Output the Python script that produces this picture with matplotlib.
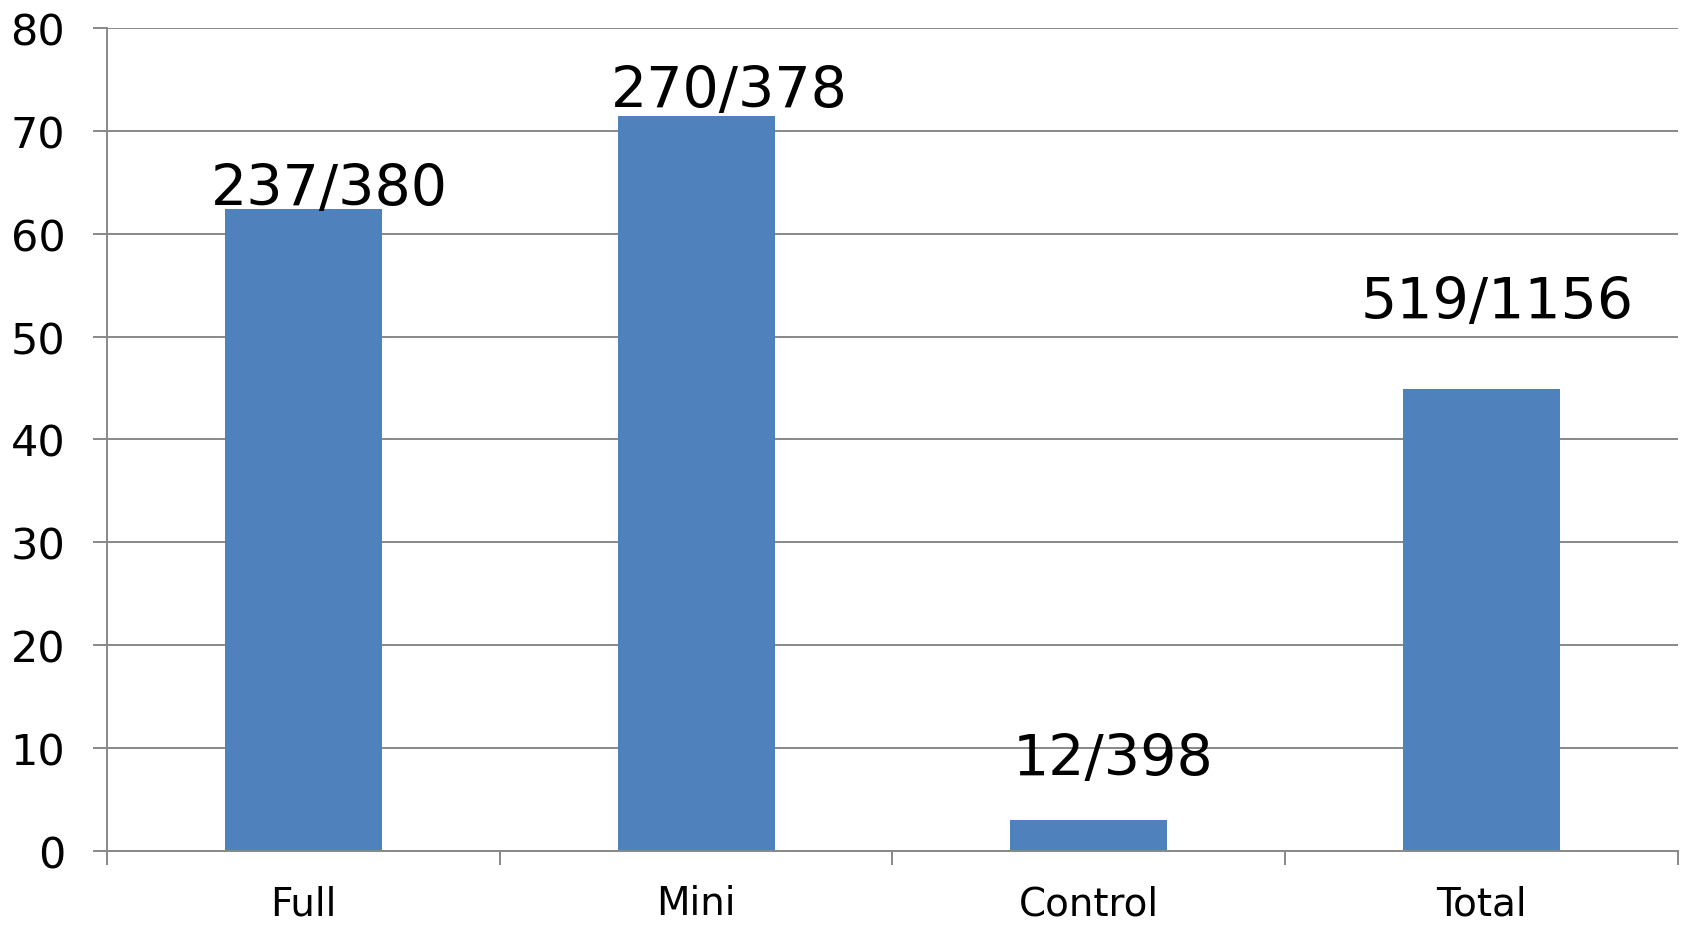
import matplotlib.pyplot as plt
import numpy as np

categories = ['Full', 'Mini', 'Control', 'Total']
percent = [62.4, 71.4, 3.0, 44.9]
labels = ['237/380', '270/378', '12/398', '519/1156']

# where the fraction labels sit (data units), they were placed by hand
label_dx = [0.066, 0.084, 0.061, 0.04]
label_y = [62.8, 72.3, 7.4, 51.8]

grey = '#888888'

fig = plt.figure(figsize=(16.84, 9.29), dpi=100)
ax = fig.add_axes([0.0635, 0.0829, 0.9329, 0.8859])

x = np.arange(len(categories))
ax.bar(x, percent, width=0.4, color='#4F81BD', zorder=2)

for i, txt in enumerate(labels):
    ax.text(x[i] + label_dx[i], label_y[i], txt, ha='center', va='baseline',
            fontsize=41, color='black', zorder=3)

ax.set_xlim(-0.5, 3.5)
ax.set_ylim(0, 80)
ax.set_yticks(range(0, 81, 10))
ax.yaxis.grid(True, color=grey, linewidth=1.4, zorder=1)
ax.set_axisbelow(True)

ax.set_xticks(x)
ax.set_xticklabels(categories, fontsize=28)
ax.set_xticks(np.arange(-0.5, 3.6, 1), minor=True)
ax.tick_params(axis='x', which='major', length=0, pad=24)
ax.tick_params(axis='x', which='minor', length=10, width=1.4, color=grey)
ax.tick_params(axis='y', length=10, width=1.4, color=grey, labelsize=31, pad=20)

for s in ['top', 'right']:
    ax.spines[s].set_visible(False)
for s in ['left', 'bottom']:
    ax.spines[s].set_color(grey)
    ax.spines[s].set_linewidth(1.4)

plt.savefig('out.png', dpi=100)
